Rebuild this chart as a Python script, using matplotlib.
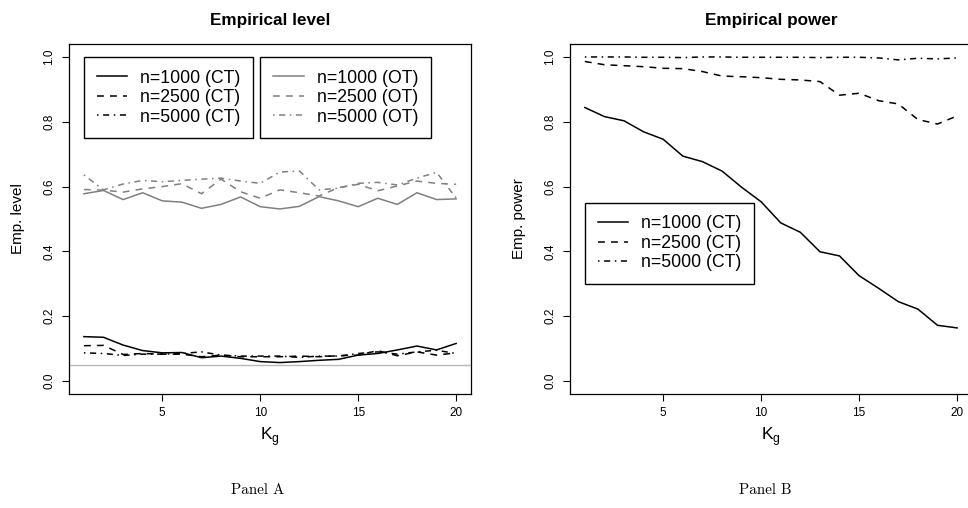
import matplotlib
matplotlib.use("Agg")
import matplotlib.pyplot as plt

plt.rcParams['font.family'] = ['Liberation Sans', 'DejaVu Sans']

kg = list(range(1, 21))

# Panel A: empirical level
level_ct_1000 = [0.137, 0.135, 0.111, 0.094, 0.087, 0.088, 0.072, 0.077, 0.070, 0.060,
                 0.057, 0.060, 0.064, 0.067, 0.080, 0.085, 0.096, 0.108, 0.096, 0.116]
level_ct_2500 = [0.109, 0.110, 0.082, 0.085, 0.083, 0.083, 0.075, 0.080, 0.075, 0.075,
                 0.075, 0.077, 0.075, 0.078, 0.080, 0.094, 0.078, 0.090, 0.080, 0.087]
level_ct_5000 = [0.087, 0.085, 0.079, 0.083, 0.083, 0.085, 0.090, 0.080, 0.077, 0.077,
                 0.077, 0.073, 0.077, 0.077, 0.085, 0.090, 0.083, 0.090, 0.095, 0.085]
level_ot_1000 = [0.578, 0.588, 0.560, 0.581, 0.556, 0.552, 0.533, 0.545, 0.568, 0.538,
                 0.531, 0.539, 0.569, 0.556, 0.538, 0.564, 0.545, 0.581, 0.560, 0.562]
level_ot_2500 = [0.591, 0.589, 0.583, 0.593, 0.600, 0.609, 0.578, 0.623, 0.584, 0.564,
                 0.590, 0.581, 0.571, 0.597, 0.607, 0.587, 0.602, 0.617, 0.610, 0.607]
level_ot_5000 = [0.636, 0.590, 0.608, 0.619, 0.615, 0.619, 0.623, 0.626, 0.617, 0.610,
                 0.645, 0.648, 0.590, 0.595, 0.610, 0.613, 0.605, 0.626, 0.644, 0.565]
nominal = 0.05

# Panel B: empirical power
power_1000 = [0.844, 0.816, 0.803, 0.769, 0.746, 0.694, 0.677, 0.648, 0.598, 0.553,
              0.488, 0.459, 0.399, 0.386, 0.325, 0.286, 0.245, 0.222, 0.172, 0.164]
power_2500 = [0.986, 0.976, 0.973, 0.970, 0.965, 0.964, 0.955, 0.941, 0.939, 0.936,
              0.931, 0.929, 0.924, 0.882, 0.888, 0.865, 0.855, 0.807, 0.793, 0.818]
power_5000 = [1.000, 1.000, 1.000, 0.999, 0.999, 0.998, 1.000, 1.000, 0.999, 0.999,
              0.999, 0.999, 0.998, 0.999, 0.999, 0.997, 0.991, 0.996, 0.994, 0.997]

x_ticks = [5, 10, 15, 20]
y_ticks = [0.0, 0.2, 0.4, 0.6, 0.8, 1.0]

DASH = (0, (4.5, 4))
DOTDASH = (0, (1, 3, 4, 3))
GRAY = '#808080'
LW = 1.1

leg_kw = dict(loc='upper left', fontsize=12.7, borderaxespad=0, borderpad=0.72,
              handlelength=1.75, handletextpad=0.73, labelspacing=0.14,
              fancybox=False, framealpha=1, edgecolor='black')


def style_axes(ax, ylabel, title):
    ax.set_xlim(0.24, 20.76)
    ax.set_ylim(-0.04, 1.04)
    ax.set_xticks(x_ticks)
    ax.set_yticks(y_ticks)
    ax.set_yticklabels(['%.1f' % v for v in y_ticks], rotation=90, va='center')
    ax.tick_params(labelsize=8.5, length=5, width=0.8, direction='out')
    ax.tick_params(axis='x', pad=4)
    ax.tick_params(axis='y', pad=5)
    for s in ax.spines.values():
        s.set_linewidth(0.9)
    ax.set_title(title, fontsize=12.3, fontweight='bold', pad=14)
    ax.set_ylabel(ylabel, fontsize=11)
    ax.yaxis.set_label_coords(-0.11, 0.5)
    ax.set_xlabel(r'K$_\mathregular{g}$', fontsize=12.5)
    ax.xaxis.set_label_coords(0.5, -0.09)


fig = plt.figure(figsize=(9.68, 5.08), dpi=100)
ax1 = fig.add_axes([0.0713, 0.2244, 0.4153, 0.689])
ax2 = fig.add_axes([0.5888, 0.2244, 0.4153, 0.689])

# Panel A
ax1.axhline(nominal, color='#b8b8b8', lw=1.0)
c1, = ax1.plot(kg, level_ct_1000, color='black', lw=LW)
c2, = ax1.plot(kg, level_ct_2500, color='black', lw=LW, linestyle=DASH)
c3, = ax1.plot(kg, level_ct_5000, color='black', lw=LW, linestyle=DOTDASH)
o1, = ax1.plot(kg, level_ot_1000, color=GRAY, lw=LW)
o2, = ax1.plot(kg, level_ot_2500, color=GRAY, lw=LW, linestyle=DASH)
o3, = ax1.plot(kg, level_ot_5000, color=GRAY, lw=LW, linestyle=DOTDASH)
style_axes(ax1, 'Emp. level', 'Empirical level')

leg1 = ax1.legend([c1, c2, c3], ['n=1000 (CT)', 'n=2500 (CT)', 'n=5000 (CT)'],
                  bbox_to_anchor=(1, 1.0), bbox_transform=ax1.transData, **leg_kw)
ax1.add_artist(leg1)
ax1.legend([o1, o2, o3], ['n=1000 (OT)', 'n=2500 (OT)', 'n=5000 (OT)'],
           bbox_to_anchor=(10, 1.0), bbox_transform=ax1.transData, **leg_kw)

# Panel B
p1, = ax2.plot(kg, power_1000, color='black', lw=LW)
p2, = ax2.plot(kg, power_2500, color='black', lw=LW, linestyle=DASH)
p3, = ax2.plot(kg, power_5000, color='black', lw=LW, linestyle=DOTDASH)
style_axes(ax2, 'Emp. power', 'Empirical power')
ax2.legend([p1, p2, p3], ['n=1000 (CT)', 'n=2500 (CT)', 'n=5000 (CT)'],
           bbox_to_anchor=(1, 0.55), bbox_transform=ax2.transData, **leg_kw)

fig.text(258 / 968, 1 - 490 / 508, 'Panel A', fontfamily='cmr10', fontsize=10.8,
         ha='center', va='center')
fig.text(765 / 968, 1 - 490 / 508, 'Panel B', fontfamily='cmr10', fontsize=10.8,
         ha='center', va='center')

fig.savefig('out.png', dpi=100)
